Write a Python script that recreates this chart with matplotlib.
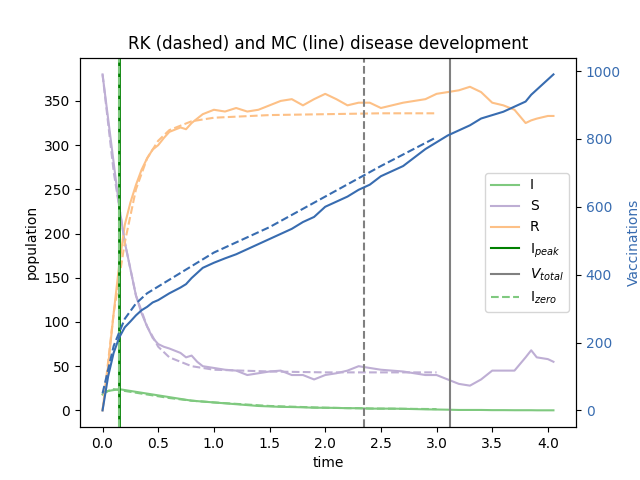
import matplotlib
matplotlib.use('Agg')
import matplotlib.pyplot as plt
from matplotlib.lines import Line2D

# Monte Carlo run
t_mc = [0, 0.05, 0.1, 0.15, 0.2, 0.25, 0.3, 0.35, 0.4, 0.45, 0.5, 0.55, 0.6, 0.7, 0.75, 0.8, 0.85, 0.9, 1.0, 1.1,
        1.2, 1.3, 1.4, 1.5, 1.6, 1.7, 1.8, 1.9, 2.0, 2.1, 2.2, 2.3, 2.4, 2.5, 2.6, 2.7, 2.8, 2.9, 3.0, 3.1,
        3.2, 3.3, 3.4, 3.5, 3.6, 3.7, 3.8, 3.85, 3.9, 4.0, 4.05]
S_mc = [380, 330, 280, 230, 190, 160, 130, 110, 95, 82, 75, 72, 70, 65, 60, 62, 55, 50, 48, 46,
        45, 40, 42, 44, 45, 40, 40, 35, 40, 42, 45, 50, 48, 46, 45, 44, 42, 40, 40, 35,
        30, 28, 35, 45, 45, 45, 60, 68, 60, 58, 55]
R_mc = [0, 50, 110, 165, 210, 235, 255, 272, 285, 295, 300, 308, 315, 320, 318, 325, 330, 335, 340, 338,
        342, 338, 340, 345, 350, 352, 345, 352, 358, 352, 345, 348, 348, 342, 345, 348, 350, 352, 358, 360,
        362, 366, 360, 348, 345, 340, 325, 328, 330, 333, 333]
I_mc = [18, 22, 23, 24, 23, 22, 21, 20, 19, 18, 17, 16, 15, 13, 12, 11, 10.5, 10, 9, 8,
        7, 6, 5, 4.5, 4, 3.8, 3.5, 3, 3, 2.8, 2.5, 2.5, 2, 2, 2, 1.8, 1.5, 1.2, 1, 0.8,
        0.5, 0.5, 0.5, 0.3, 0.3, 0.2, 0.2, 0.2, 0.1, 0.1, 0.1]
V_mc = [0, 100, 170, 215, 245, 262, 280, 295, 305, 318, 325, 335, 345, 362, 372, 390, 405, 420, 435, 448,
        460, 475, 490, 505, 520, 535, 555, 570, 625 - 25, 615, 630, 650, 665, 690, 705, 720, 745, 770, 790, 810,
        825, 840, 860, 870, 880, 895, 910, 930, 945, 975, 990]

# Runge-Kutta solution
t_rk = [0, 0.1, 0.2, 0.3, 0.4, 0.5, 0.6, 0.8, 1.0, 1.5, 2.0, 2.5, 3.0]
S_rk = [380, 270, 190, 130, 95, 72, 60, 50, 46, 44, 43, 43, 43]
R_rk = [0, 110, 190, 250, 285, 305, 317, 327, 331, 334, 335, 336, 336]
I_rk = [20, 24, 22, 20, 18, 16, 14, 11, 9, 5, 3, 2, 1.5]
V_rk = [50, 190, 270, 315, 345, 365, 385, 425, 465, 540, 630, 720, 805]

t_peak, t_zero, t_vtotal = 0.15, 2.35, 3.12

cI, cS, cR, cV = '#7fc97f', '#beaed4', '#fdc086', '#386cb0'

fig, ax = plt.subplots(figsize=(6.4, 4.8), dpi=100)
ax.plot(t_mc, I_mc, color=cI, label='I')
ax.plot(t_mc, S_mc, color=cS, label='S')
ax.plot(t_mc, R_mc, color=cR, label='R')
ax.plot(t_rk, I_rk, color=cI, ls='--')
ax.plot(t_rk, S_rk, color=cS, ls='--')
ax.plot(t_rk, R_rk, color=cR, ls='--')
ax.axvline(t_peak, color='green', lw=2)
ax.axvline(t_peak, color=cI, ls='--')
ax.axvline(t_vtotal, color='gray')
ax.axvline(t_zero, color='gray', ls='--')
ax.set_xlabel('time')
ax.set_ylabel('population')
ax.set_title('RK (dashed) and MC (line) disease development')

ax2 = ax.twinx()
ax2.plot(t_mc, V_mc, color=cV)
ax2.plot(t_rk, V_rk, color=cV, ls='--')
ax2.set_ylabel('Vaccinations', color=cV)
ax2.tick_params(axis='y', labelcolor=cV)

handles = [Line2D([], [], color=cI), Line2D([], [], color=cS), Line2D([], [], color=cR),
           Line2D([], [], color='green'), Line2D([], [], color='gray'), Line2D([], [], color=cI, ls='--')]
labels = ['I', 'S', 'R', '$\\mathrm{I}_{peak}$', '$V_{total}$', '$\\mathrm{I}_{zero}$']
ax2.legend(handles, labels, loc='center right')

plt.savefig('out.png')
